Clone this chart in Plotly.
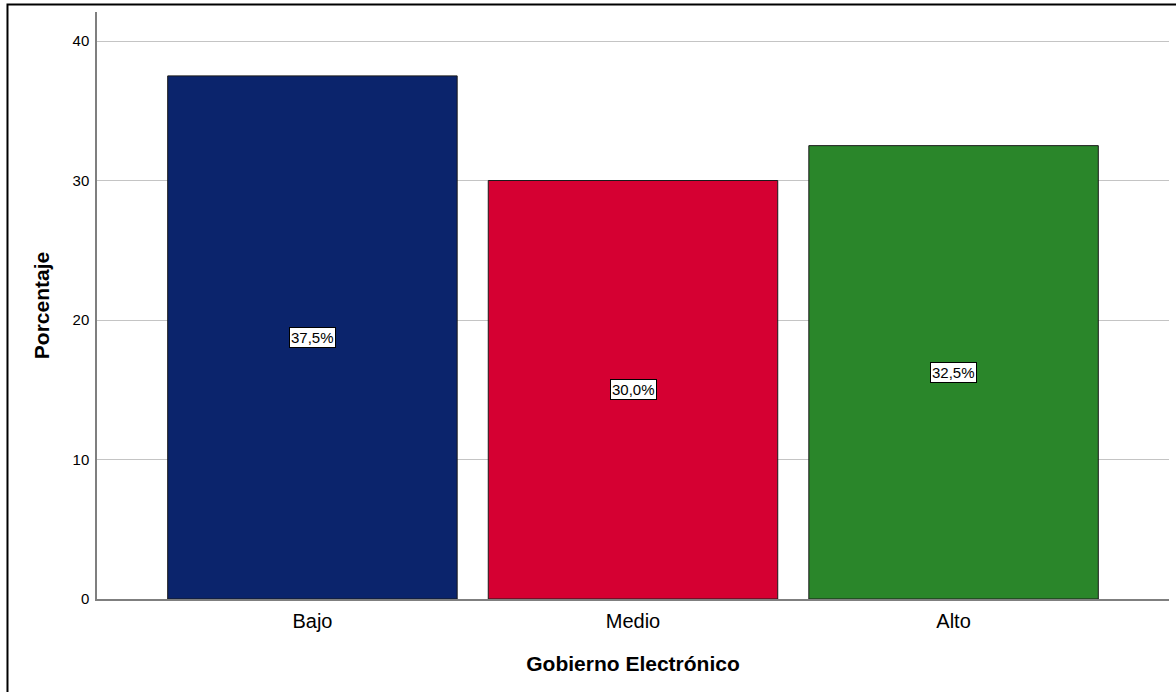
import plotly.graph_objects as go

categories = ["Bajo", "Medio", "Alto"]
values = [37.5, 30.0, 32.5]
labels = ["37,5%", "30,0%", "32,5%"]
colors = ["#0b246c", "#d50032", "#2a862a"]

FONT = "Liberation Sans, Arial, sans-serif"

fig = go.Figure()
fig.add_trace(go.Bar(
    x=categories, y=values,
    marker=dict(color=colors, line=dict(color="#1a1a1a", width=1)),
    width=0.903, hoverinfo="skip",
))

for c, v, t in zip(categories, values, labels):
    fig.add_annotation(
        x=c, y=v / 2, text=t, showarrow=False,
        font=dict(family=FONT, size=15, color="#000000"),
        bgcolor="#ffffff", bordercolor="#000000", borderwidth=1, borderpad=1,
    )

# outer frame
fig.add_shape(type="rect", xref="paper", yref="paper",
              x0=-0.0835, x1=1.02, y0=-0.2, y1=1.0128,
              line=dict(color="#000000", width=2), fillcolor="rgba(0,0,0,0)", layer="above")

fig.update_layout(
    width=1176, height=692,
    margin=dict(l=97, r=7, t=12, b=93),
    paper_bgcolor="#ffffff", plot_bgcolor="#ffffff",
    showlegend=False,
    font=dict(family=FONT, color="#000000"),
    xaxis=dict(
        range=[-0.672, 2.672], showgrid=False, zeroline=False,
        showline=True, linecolor="#7f7f7f", linewidth=1.5,
        ticks="", tickfont=dict(size=20, color="#000000"), ticklabelstandoff=3,
        title=dict(text="<b>Gobierno Electrónico</b>", font=dict(size=21, color="#000000"), standoff=26),
        fixedrange=True,
    ),
    yaxis=dict(
        range=[0, 42.08], tickvals=[0, 10, 20, 30, 40],
        showgrid=True, gridcolor="#c4c4c4", gridwidth=1, zeroline=False,
        showline=True, linecolor="#7f7f7f", linewidth=1.5,
        ticks="", tickfont=dict(size=15, color="#000000"), ticklabelstandoff=3,
        title=dict(text="<b>Porcentaje</b>", font=dict(size=21, color="#000000"), standoff=17),
        fixedrange=True,
    ),
)

fig.write_html("out.html", config={"displayModeBar": False},
               post_script="document.body.style.margin='0';document.body.style.overflow='hidden';")
